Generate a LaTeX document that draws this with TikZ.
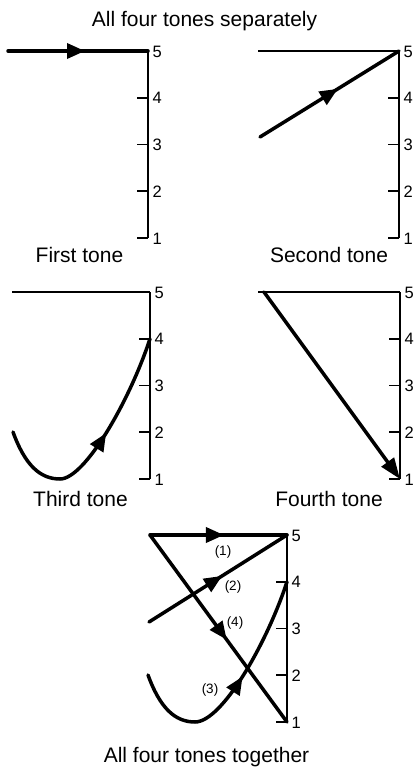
\documentclass[tikz,border=0pt]{standalone}
\usepackage{fontspec}
\setmainfont{Liberation Sans}
\usetikzlibrary{arrows.meta,decorations.markings}
\tikzset{
  tone/.style={line width=3.5pt,line cap=round},
  axisline/.style={line width=1.9pt},
  tickline/.style={line width=1.7pt},
  topline/.style={line width=1.7pt},
  num/.style={font=\fontsize{16.5}{16.5}\selectfont,inner sep=0pt,anchor=base west},
  lbl/.style={font=\fontsize{21}{21}\selectfont,inner sep=0pt,anchor=base},
  small/.style={font=\fontsize{13.5}{13.5}\selectfont,inner sep=0pt},
  midarrow/.style={postaction={decorate},decoration={markings,
     mark=at position #1 with {\arrow{Triangle[length=18pt,width=15pt]}}}},
  endarrow/.style={-{Triangle[length=21pt,width=15pt]}}
}
\newcommand{\toneaxis}[3]{%
  \draw[axisline] (#2,#3) -- (#2,#3+187);
  \foreach \k in {1,2,3,4}{\draw[tickline] (#2-11,#3+46.75*\k) -- (#2,#3+46.75*\k);}
  \foreach \k/\v in {0/5,1/4,2/3,3/2,4/1}{%
    \coordinate (#1p\v) at (#2,#3+46.75*\k);
    \node[num] (#1n\v) at (#2+4.5,#3+46.75*\k+6) {\v};}
}
\begin{document}
\begin{tikzpicture}[x=1pt,y=-1pt]
\useasboundingbox (0,0) rectangle (414,768);
\node[lbl] (title) at (204.5,27) {All four tones separately};

% Panel 1
\toneaxis{a}{148}{51}
\coordinate (as) at (8,51);
\draw[tone,midarrow=0.55] (as) -- (ap5);
\node[lbl] (alab) at (79.5,262) {First tone};

% Panel 2
\toneaxis{b}{399}{51}
\coordinate (btop) at (258,51);
\draw[topline] (btop) -- (bp5);
\coordinate (bs) at (260,137);
\draw[tone,midarrow=0.56] (bs) -- (bp5);
\node[lbl] (blab) at (329,262) {Second tone};

% Panel 3
\toneaxis{c}{150}{292}
\coordinate (ctop) at (12,292);
\draw[topline] (ctop) -- (cp5);
\coordinate (cs) at (13,432);
\coordinate (cm) at (60,479);
\draw[tone,midarrow=0.57] (cs) .. controls (25,465) and (40,479) .. (cm)
   .. controls (85,479) and (130,400) .. (cp4);
\node[lbl] (clab) at (80.5,506) {Third tone};

% Panel 4
\toneaxis{d}{400}{292}
\coordinate (dtop) at (258,292);
\draw[topline] (dtop) -- (dp5);
\coordinate (ds) at (264,292);
\draw[tone,endarrow] (ds) -- (dp1);
\node[lbl] (dlab) at (329,506) {Fourth tone};

% Panel 5
\toneaxis{e}{287}{535}
\coordinate (es1) at (150,535);
\coordinate (es2) at (149,622);
\coordinate (es3) at (148,675);
\coordinate (em3) at (195,722);
\draw[tone,midarrow=0.54] (es1) -- (ep5);
\draw[tone,midarrow=0.53] (es2) -- (ep5);
\draw[tone,midarrow=0.56] (es1) -- (ep1);
\draw[tone,midarrow=0.57] (es3) .. controls (160,708) and (175,722) .. (em3)
   .. controls (222,722) and (267,643) .. (ep4);
\node[small] (l1) at (223,552) {(1)};
\node[small] (l2) at (233,587) {(2)};
\node[small] (l4) at (235,623) {(4)};
\node[small] (l3) at (210,690) {(3)};
\node[lbl] (elab) at (206.5,762) {All four tones together};
\end{tikzpicture}
\end{document}
